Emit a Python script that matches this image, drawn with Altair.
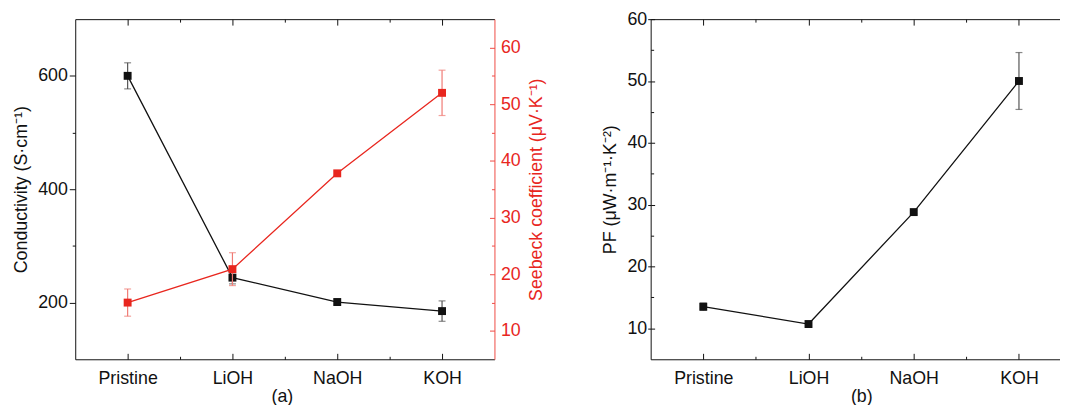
import altair as alt
import pandas as pd

# ---------------- data ----------------
categories = ["Pristine", "LiOH", "NaOH", "KOH"]
positions = [1, 2, 3, 4]
mid_positions = [1.5, 2.5, 3.5]

conductivity = [600, 244, 201, 185]
conductivity_err = [23, 11, 5, 18]
seebeck = [15.0, 20.9, 37.8, 52.0]
seebeck_err = [2.4, 2.9, 0.4, 4.0]
pf = [13.5, 10.7, 28.8, 50.0]
pf_err = [0.6, 0.4, 0.3, 4.6]

cond_major = [200, 400, 600]
cond_minor = [300, 500]
seebeck_major = [10, 20, 30, 40, 50, 60]
seebeck_minor = [15, 25, 35, 45, 55]
pf_major = [10, 20, 30, 40, 50, 60]
pf_minor = [15, 25, 35, 45, 55]

# ---------------- style ----------------
FONT = "Liberation Sans"
FS = 18
BLACK = "#111111"
ERR_BLACK = "#555555"
RED = "#E8261E"
RED_AXIS = "#EF4A44"
RED_ERR = "#F07A74"

W1, W2, H = 424, 414, 344
XDOM_A = [0.5, 4.5]
XDOM_B = [0.5, 4.39]
YDOM_COND = [100, 700]
YDOM_SEE = [5, 65]
YDOM_PF = [5, 60]

label_expr = ""
for p, c in zip(positions, categories):
    label_expr += f"datum.value == {p} ? '{c}' : "
label_expr += "''"

df_a = pd.DataFrame({
    "pos": positions,
    "cat": categories,
    "cond": conductivity,
    "cond_lo": [v - e for v, e in zip(conductivity, conductivity_err)],
    "cond_hi": [v + e for v, e in zip(conductivity, conductivity_err)],
    "see": seebeck,
    "see_lo": [v - e for v, e in zip(seebeck, seebeck_err)],
    "see_hi": [v + e for v, e in zip(seebeck, seebeck_err)],
})
df_b = pd.DataFrame({
    "pos": positions,
    "cat": categories,
    "pf": pf,
    "pf_lo": [v - e for v, e in zip(pf, pf_err)],
    "pf_hi": [v + e for v, e in zip(pf, pf_err)],
})


def xenc(xdom, axis):
    return alt.X("pos:Q", scale=alt.Scale(domain=xdom, nice=False, zero=False), axis=axis)


def yenc(field, ydom, axis):
    return alt.Y(f"{field}:Q", scale=alt.Scale(domain=ydom, nice=False, zero=False), axis=axis)


def series(df, field, xdom, ydom, color, errcolor, xaxis, yaxis):
    base = alt.Chart(df)
    rule = base.mark_rule(color=errcolor, strokeWidth=1.2).encode(
        x=xenc(xdom, xaxis), y=yenc(field + "_lo", ydom, yaxis), y2=f"{field}_hi:Q")
    cap_lo = base.mark_tick(color=errcolor, orient="horizontal", size=7, thickness=1.2).encode(
        x=xenc(xdom, xaxis), y=yenc(field + "_lo", ydom, yaxis))
    cap_hi = base.mark_tick(color=errcolor, orient="horizontal", size=7, thickness=1.2).encode(
        x=xenc(xdom, xaxis), y=yenc(field + "_hi", ydom, yaxis))
    line = base.mark_line(color=color, strokeWidth=1.3).encode(
        x=xenc(xdom, xaxis), y=yenc(field, ydom, yaxis))
    pts = base.mark_square(color=color, size=64, opacity=1).encode(
        x=xenc(xdom, xaxis), y=yenc(field, ydom, yaxis))
    return alt.layer(rule, cap_lo, cap_hi, line, pts)


def ghost(df, field, xdom, ydom, xaxis=None, yaxis=None):
    return alt.Chart(df).mark_point(opacity=0).encode(
        x=xenc(xdom, xaxis), y=yenc(field, ydom, yaxis))


def tick_axis(orient, values, size, color, offset=None, domain=False):
    kw = dict(orient=orient, values=values, tickSize=size, tickColor=color, tickWidth=1,
              labels=False, title=None, domain=domain, domainColor=color, domainWidth=1,
              grid=False, ticks=True, minExtent=0)
    if offset is not None:
        kw["offset"] = offset
    return alt.Axis(**kw)


# ---------------- panel (a) ----------------
main_x_a = alt.Axis(orient="bottom", values=positions, labelExpr=label_expr, ticks=False,
                    tickSize=0, domain=True, domainColor=BLACK, domainWidth=1,
                    labelPadding=11, title="(a)", titlePadding=0, titleX=209,
                    labelColor=BLACK, titleColor=BLACK, grid=False)
main_y_a = alt.Axis(orient="left", values=cond_major, tickSize=6, tickColor=BLACK, tickWidth=1,
                    domain=True, domainColor=BLACK, domainWidth=1, labelPadding=2,
                    title="Conductivity (S·cm⁻¹)", titlePadding=7, labelColor=BLACK,
                    titleColor=BLACK, grid=False, minExtent=0)
red_y = alt.Axis(orient="right", values=seebeck_major, ticks=False, tickSize=0,
                 domain=True, domainColor=RED_AXIS, domainWidth=1, labelPadding=6,
                 labelColor=RED, title="Seebeck coefficient (μV·K⁻¹)", titleColor=RED,
                 titleAngle=270, titleBaseline="top", titlePadding=8, grid=False, minExtent=0)

layers_a = [
    series(df_a, "cond", XDOM_A, YDOM_COND, BLACK, ERR_BLACK, main_x_a, main_y_a),
    series(df_a, "see", XDOM_A, YDOM_SEE, RED, RED_ERR, None, red_y),
    ghost(df_a, "cond", XDOM_A, YDOM_COND, xaxis=tick_axis("top", positions, 6, BLACK, offset=-H)),
    ghost(df_a, "cond", XDOM_A, YDOM_COND, xaxis=tick_axis("top", mid_positions, 3, BLACK, offset=-H)),
    ghost(df_a, "cond", XDOM_A, YDOM_COND, xaxis=tick_axis("bottom", positions, 6, BLACK, offset=-H, domain=True)),
    ghost(df_a, "cond", XDOM_A, YDOM_COND, xaxis=tick_axis("bottom", mid_positions, 3, BLACK, offset=-H)),
    ghost(df_a, "cond", XDOM_A, YDOM_COND, yaxis=tick_axis("left", cond_minor, 3, BLACK)),
    ghost(df_a, "see", XDOM_A, YDOM_SEE, yaxis=tick_axis("left", seebeck_major, 5, RED_AXIS, offset=-W1)),
    ghost(df_a, "see", XDOM_A, YDOM_SEE, yaxis=tick_axis("left", seebeck_minor, 3, RED_AXIS, offset=-W1)),
]
panel_a = alt.layer(*layers_a).resolve_scale(x="independent", y="independent").resolve_axis(
    x="independent", y="independent").properties(width=W1, height=H)

# ---------------- panel (b) ----------------
main_x_b = alt.Axis(orient="bottom", values=positions, labelExpr=label_expr, ticks=False,
                    tickSize=0, domain=True, domainColor=BLACK, domainWidth=1,
                    labelPadding=11, title="(b)", titlePadding=0, titleX=213,
                    labelColor=BLACK, titleColor=BLACK, grid=False)
main_y_b = alt.Axis(orient="left", values=pf_major, tickSize=3, tickColor=BLACK, tickWidth=1,
                    domain=True, domainColor=BLACK, domainWidth=1, labelPadding=1,
                    title="PF (μW·m⁻¹·K⁻²)", titlePadding=8, labelColor=BLACK,
                    titleColor=BLACK, grid=False, minExtent=0)

layers_b = [
    series(df_b, "pf", XDOM_B, YDOM_PF, BLACK, ERR_BLACK, main_x_b, main_y_b),
    ghost(df_b, "pf", XDOM_B, YDOM_PF, xaxis=tick_axis("top", positions, 6, BLACK, offset=-H)),
    ghost(df_b, "pf", XDOM_B, YDOM_PF, xaxis=tick_axis("top", mid_positions, 3, BLACK, offset=-H)),
    ghost(df_b, "pf", XDOM_B, YDOM_PF, xaxis=tick_axis("bottom", positions, 6, BLACK, offset=-H, domain=True)),
    ghost(df_b, "pf", XDOM_B, YDOM_PF, xaxis=tick_axis("bottom", mid_positions, 3, BLACK, offset=-H)),
    ghost(df_b, "pf", XDOM_B, YDOM_PF, yaxis=tick_axis("right", pf_major, 4, BLACK, offset=-W2)),
    ghost(df_b, "pf", XDOM_B, YDOM_PF, yaxis=tick_axis("right", pf_minor, 3, BLACK, offset=-W2)),
]
panel_b = alt.layer(*layers_b).resolve_scale(x="independent", y="independent").resolve_axis(
    x="independent", y="independent").properties(width=W2, height=H)

chart = alt.hconcat(panel_a, panel_b, spacing=54).properties(
    padding={"left": 4, "top": 0, "right": 0, "bottom": 0}
).configure_view(stroke=None).configure_axis(
    labelFont=FONT, titleFont=FONT, labelFontSize=FS, titleFontSize=FS,
    titleFontWeight="normal", labelFontWeight="normal"
)

chart.save("out.html", embed_options={"renderer": "svg", "actions": False})
